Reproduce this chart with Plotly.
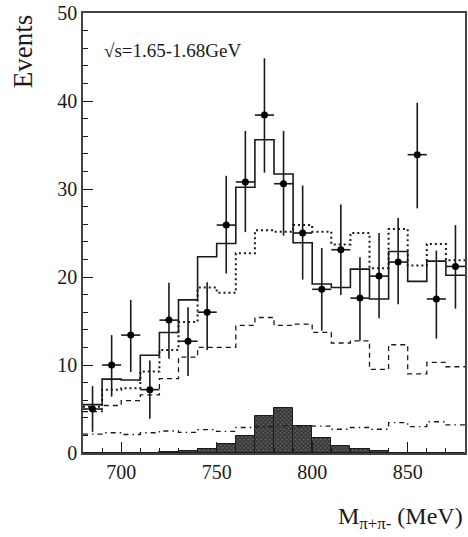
import plotly.graph_objects as go

# ---- data ----
bin_low = [680, 690, 700, 710, 720, 730, 740, 750, 760, 770,
           780, 790, 800, 810, 820, 830, 840, 850, 860, 870]
bin_width = 10

data_y = [5.0, 10.0, 13.4, 7.2, 15.1, 12.7, 16.0, 25.9, 30.8, 38.4,
          30.6, 25.0, 18.6, 23.1, 17.6, 20.1, 21.7, 33.9, 17.5, 21.2]
err_plus = [2.6, 3.4, 4.0, 3.3, 4.25, 3.85, 3.4, 5.6, 5.8, 6.45,
            6.0, 5.4, 4.7, 5.15, 4.65, 4.9, 5.0, 5.9, 5.5, 4.7]
err_minus = [2.6, 3.6, 4.2, 3.3, 4.4, 3.95, 4.3, 5.5, 5.7, 6.55,
             5.9, 5.3, 4.7, 5.15, 4.85, 4.8, 4.8, 6.1, 4.5, 4.8]

total_fit = [5.5, 8.4, 8.3, 11.1, 13.7, 17.4, 22.3, 23.8, 30.2, 35.6,
             31.7, 23.9, 19.2, 18.8, 20.9, 17.5, 22.9, 19.5, 21.8, 20.2]
dotted_h = [5.25, 7.2, 7.35, 9.25, 11.7, 14.9, 18.8, 18.2, 22.7, 25.3,
            25.15, 25.9, 25.15, 23.7, 25.0, 21.0, 25.45, 21.3, 23.75, 21.9]
dashed_h = [4.7, 5.4, 5.95, 6.6, 8.45, 10.9, 12.0, 12.0, 14.5, 15.4,
            14.5, 14.65, 13.7, 12.5, 12.75, 9.5, 12.3, 9.0, 10.3, 9.8]
dashdot_h = [2.15, 2.3, 2.1, 2.3, 2.5, 2.35, 2.65, 2.45, 2.9, 3.0,
             3.1, 3.07, 3.05, 2.7, 2.9, 2.7, 3.45, 3.0, 3.55, 3.2]
hatched_h = [0.0, 0.0, 0.0, 0.0, 0.1, 0.2, 0.5, 1.05, 1.93, 4.2,
             5.07, 3.07, 1.74, 0.83, 0.4, 0.2, 0.05, 0.0, 0.0, 0.0]

x_range = [680, 880]
y_range = [0, 50]
y_ticks = [0, 10, 20, 30, 40, 50]
x_ticks = [700, 750, 800, 850]
label_text = "\u221as=1.65-1.68GeV"

# ---- derived ----
centers = [b + bin_width / 2 for b in bin_low]
edges = bin_low + [bin_low[-1] + bin_width]

def step(vals):
    return vals + [vals[-1]]

FONT = "Liberation Serif"
INK = "#1a1a1a"

fig = go.Figure()

fig.add_trace(go.Bar(
    x=centers, y=hatched_h, width=bin_width,
    marker=dict(color="#222222",
                line=dict(color=INK, width=1),
                pattern=dict(shape="x", size=3, solidity=0.7,
                             fgcolor="#000000", bgcolor="#6a6a6a")),
    showlegend=False, hoverinfo="skip"))

fig.add_trace(go.Scatter(x=edges, y=step(dashdot_h), mode="lines",
                         line=dict(shape="hv", color=INK, width=1.3,
                                   dash="5px,4px,1.5px,4px"),
                         showlegend=False))
fig.add_trace(go.Scatter(x=edges, y=step(dashed_h), mode="lines",
                         line=dict(shape="hv", color=INK, width=1.3,
                                   dash="5px,4px"),
                         showlegend=False))
fig.add_trace(go.Scatter(x=edges, y=step(dotted_h), mode="lines",
                         line=dict(shape="hv", color=INK, width=2,
                                   dash="2px,3px"),
                         showlegend=False))
fig.add_trace(go.Scatter(x=edges, y=step(total_fit), mode="lines",
                         line=dict(shape="hv", color=INK, width=1.6),
                         showlegend=False))

fig.add_trace(go.Scatter(
    x=centers, y=data_y, mode="markers",
    marker=dict(color="black", size=7),
    error_y=dict(type="data", symmetric=False, array=err_plus,
                 arrayminus=err_minus, color=INK, thickness=1.6, width=0),
    error_x=dict(type="constant", value=bin_width / 2, color=INK,
                 thickness=1.6, width=0),
    showlegend=False))

tickfont = dict(family=FONT, size=20, color=INK)

fig.update_layout(
    width=468, height=537,
    margin=dict(l=83, r=1, t=13, b=84),
    paper_bgcolor="white", plot_bgcolor="white",
    font=dict(family=FONT, size=20, color=INK),
    bargap=0,
    xaxis=dict(range=x_range, tickvals=x_ticks, ticks="inside", ticklen=11,
               tickwidth=1.3, tickcolor=INK,
               minor=dict(dtick=10, ticks="inside", ticklen=5.5,
                          tickwidth=1.3, tickcolor=INK),
               showgrid=False, zeroline=False, showline=True, linecolor="#444",
               linewidth=1.6, mirror=True, tickfont=tickfont),
    yaxis=dict(range=y_range, tickvals=y_ticks, ticks="inside", ticklen=10,
               tickwidth=1.3, tickcolor=INK,
               minor=dict(dtick=2, ticks="inside", ticklen=5,
                          tickwidth=1.3, tickcolor=INK),
               showgrid=False, zeroline=False, showline=True, linecolor="#444",
               linewidth=1.6, mirror=True, tickfont=tickfont),
    annotations=[
        dict(text=label_text, xref="paper", yref="paper",
             x=(102 - 83) / 384, y=(453 - 50) / 440, xanchor="left",
             yanchor="middle", showarrow=False,
             font=dict(family=FONT, size=19)),
        dict(text="Events", xref="paper", yref="paper",
             x=(23 - 83) / 384, y=(453 - 51) / 440, xanchor="center",
             yanchor="middle", textangle=-90, showarrow=False,
             font=dict(family=FONT, size=27)),
        dict(text="M<sub>\u03c0+\u03c0-</sub> (MeV)", xref="paper",
             yref="paper", x=1.0, y=(453 - 518) / 440, xanchor="right",
             yanchor="middle", showarrow=False,
             font=dict(family=FONT, size=24)),
    ],
)

fig.write_html("out.html")
